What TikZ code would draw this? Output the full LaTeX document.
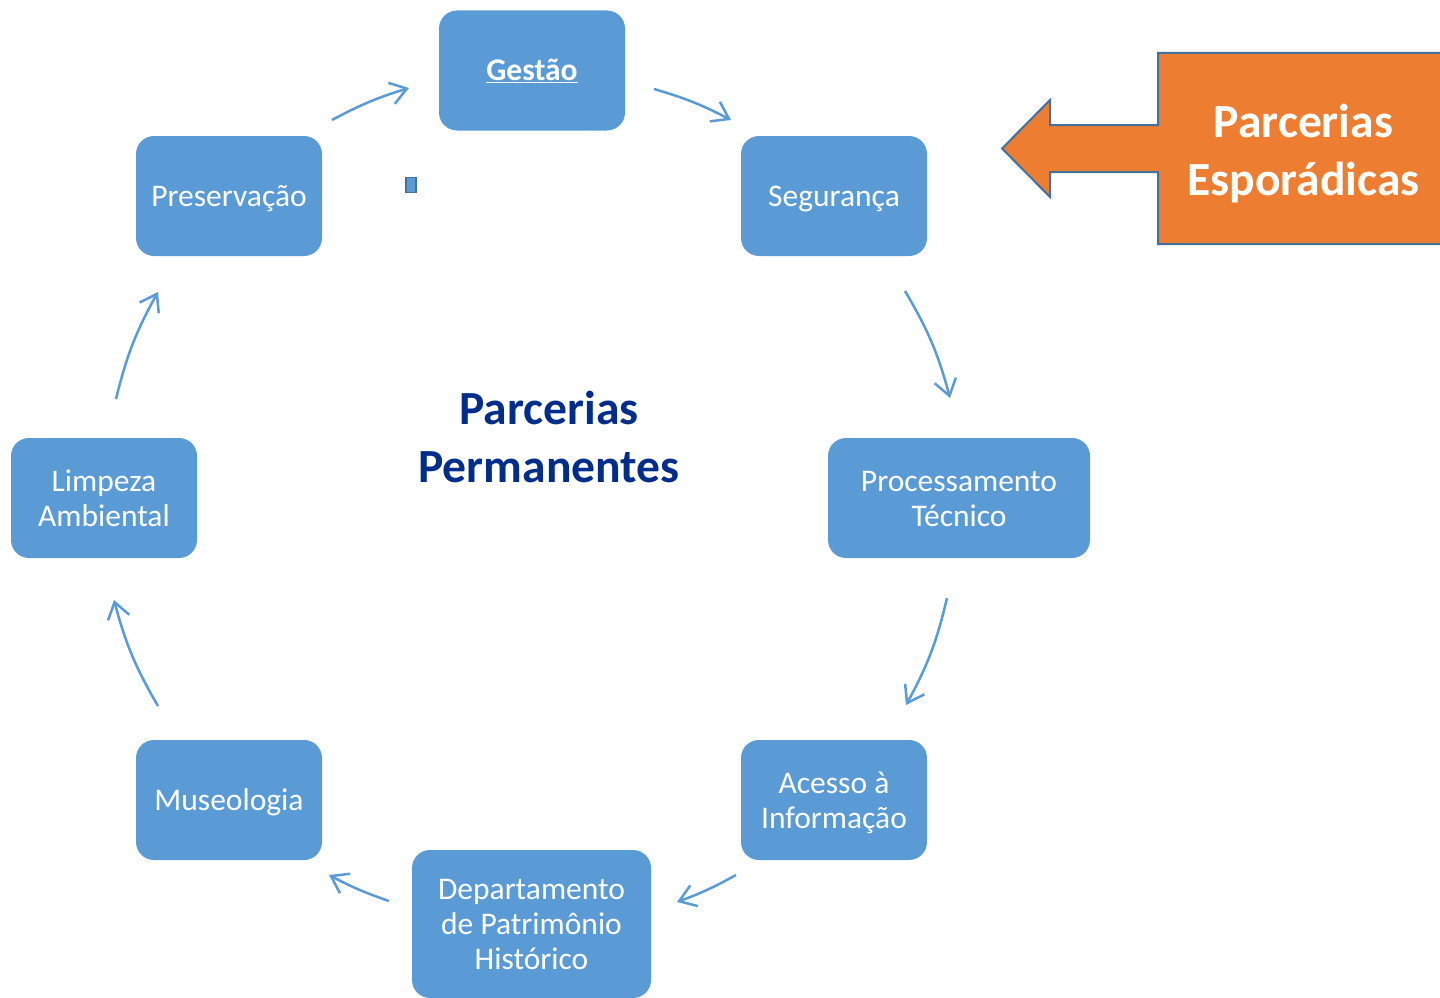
\documentclass[tikz,border=0pt]{standalone}
\usepackage{fontspec}
\setmainfont{Carlito}
\usetikzlibrary{arrows.meta}
\definecolor{boxblue}{HTML}{5B9BD5}
\definecolor{edgeblue}{HTML}{41719C}
\definecolor{navy}{HTML}{002D8A}
\definecolor{orng}{HTML}{ED7D31}
\newcommand\mytop[1][7pt]{\rule{0pt}{\dimexpr0.7\baselineskip+#1\relax}}
\begin{document}
\begin{tikzpicture}[x=1pt,y=-1pt,
  box/.style={fill=boxblue, rounded corners=18pt, text=white, align=center,
    font=\fontsize{31.5}{35}\selectfont, inner sep=0pt},
  big/.style={align=center, font=\bfseries\fontsize{47.6}{58}\selectfont},
  conn/.style={draw=boxblue, line width=2.5pt, -{Straight Barb[length=16pt,width=22pt,line width=2.5pt]}},
  ]
\useasboundingbox (0,0) rectangle (1440,998);
\clip (0,0) rectangle (1440,998);
% nodes
\node[box, minimum width=186pt, minimum height=120pt] (gestao) at (532,70.5) {\mytop\textbf{\underline{Gestão}}\strut};
\node[box, minimum width=186pt, minimum height=120pt] (seg) at (834,196) {\mytop Segurança\strut};
\node[box, minimum width=262pt, minimum height=120pt] (proc) at (959,498) {\mytop Processamento\strut\\Técnico\strut};
\node[box, minimum width=186pt, minimum height=120pt] (acesso) at (834,800) {\mytop Acesso à\strut\\Informação\strut};
\node[box, minimum width=239pt, minimum height=148pt] (dep) at (531.5,924) {\mytop Departamento\strut\\de Patrimônio\strut\\Histórico\strut};
\node[box, minimum width=186pt, minimum height=120pt] (museo) at (229,800) {\mytop Museologia\strut};
\node[box, minimum width=186pt, minimum height=120pt] (limp) at (104,498) {\mytop Limpeza\strut\\Ambiental\strut};
\node[box, minimum width=186pt, minimum height=120pt] (pres) at (229,196) {\mytop Preservação\strut};
% small marker
\node[fill=boxblue, draw=edgeblue, line width=1.5pt, minimum width=10pt, minimum height=15pt, inner sep=0pt] (mark) at (411,185) {};
% title
\node[big, text=navy] (title) at (549,438) {\mytop[8pt]Parcerias\strut\\Permanentes\strut};
% connectors
\coordinate (a1) at (332,120); \coordinate (b1) at (409,88);
\coordinate (a2) at (654,89);  \coordinate (b2) at (731,120);
\coordinate (a3) at (905,291); \coordinate (b3) at (950,398);
\coordinate (a4) at (947,598); \coordinate (b4) at (906,705);
\coordinate (a5) at (736,875); \coordinate (b5) at (677,902);
\coordinate (a6) at (389,901); \coordinate (b6) at (329,875);
\coordinate (a7) at (158,706); \coordinate (b7) at (114,600);
\coordinate (a8) at (116,399); \coordinate (b8) at (158,292);
\draw[conn] (a1) to[bend left=5.6] (b1);
\draw[conn] (a2) to[bend left=5.6] (b2);
\draw[conn] (a3) to[bend left=7.8] (b3);
\draw[conn] (a4) to[bend left=7.7] (b4);
\draw[conn] (a5) to[bend left=4.4] (b5);
\draw[conn] (a6) to[bend left=4.4] (b6);
\draw[conn] (a7) to[bend left=7.7] (b7);
\draw[conn] (a8) to[bend left=7.7] (b8);
% orange callout
\draw[fill=orng, draw=edgeblue, line width=2pt, line join=miter]
  (1450,53) -- (1158,53) -- (1158,125) -- (1050,125) -- (1050,100) -- (1002,148.5)
  -- (1050,197) -- (1050,172) -- (1158,172) -- (1158,244) -- (1450,244);
\node[big, text=white] (spor) at (1303.5,151) {\mytop[8pt]Parcerias\strut\\Esporádicas\strut};
\end{tikzpicture}
\end{document}
